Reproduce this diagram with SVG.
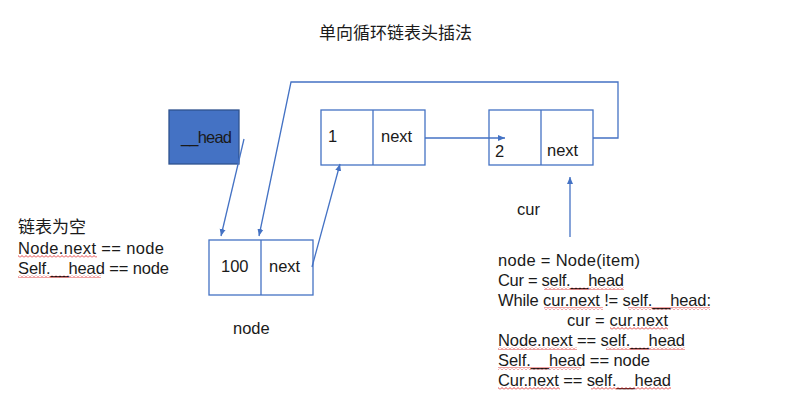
<svg xmlns="http://www.w3.org/2000/svg" width="794" height="410" viewBox="0 0 794 410">
<style>
.t{font-family:"Liberation Sans","Noto Sans CJK SC",sans-serif;font-size:16.5px;fill:#1a1a1a}
.c{font-family:"Noto Sans CJK SC","Liberation Sans",sans-serif;font-size:17px;fill:#1a1a1a}
.box{fill:#fff;stroke:#4472C4;stroke-width:1.3}
.ln{fill:none;stroke:#4472C4;stroke-width:1.3}
.sq{fill:url(#sq)}
</style>
<defs>
<marker id="ah" markerWidth="8" markerHeight="8" refX="7" refY="4" orient="auto" markerUnits="userSpaceOnUse">
<path d="M0,1 L7,4 L0,7 Z" fill="#4472C4"/>
</marker>
<pattern id="sq" width="4" height="3" patternUnits="userSpaceOnUse">
<path d="M0,2.5 L2,0.5 L4,2.5" fill="none" stroke="#e03030" stroke-width="0.9"/>
</pattern>
</defs>
<rect width="794" height="410" fill="#fff"/>
<text class="c" x="319" y="39">单向循环链表头插法</text>

<g id="head">
<rect x="169" y="110" width="70" height="54" fill="#4472C4" stroke="#2F528F" stroke-width="1.3"/>
<text class="t" x="181" y="143" textLength="51" lengthAdjust="spacing">__head</text>
</g>

<g id="node1">
<rect class="box" x="321" y="110" width="104" height="55"/>
<line class="ln" x1="373" y1="110" x2="373" y2="165"/>
<text class="t" x="328" y="142">1</text>
<text class="t" x="381" y="142">next</text>
</g>

<g id="node2">
<rect class="box" x="489" y="110" width="104" height="55"/>
<line class="ln" x1="541" y1="110" x2="541" y2="165"/>
<text class="t" x="495" y="157">2</text>
<text class="t" x="547" y="156">next</text>
</g>

<g id="node100">
<rect class="box" x="209" y="240" width="104" height="55"/>
<line class="ln" x1="261" y1="240" x2="261" y2="295"/>
<text class="t" x="221" y="272">100</text>
<text class="t" x="269" y="272">next</text>
</g>

<g id="connectors">
<line class="ln" x1="244" y1="139" x2="221" y2="236" marker-end="url(#ah)"/>
<path class="ln" d="M593,138 L618,138 L618,82 L291,82 L259,236" marker-end="url(#ah)"/>
<line class="ln" x1="312" y1="267" x2="340" y2="164" marker-end="url(#ah)"/>
<line class="ln" x1="425" y1="138" x2="505" y2="138" marker-end="url(#ah)"/>
<line class="ln" x1="570" y1="237" x2="570" y2="177" marker-end="url(#ah)"/>
</g>

<g id="labels">
<text class="t" x="517" y="215">cur</text>
<text class="t" x="233" y="334">node</text>
<text class="c" x="18" y="233">链表为空</text>
<text class="t" x="18" y="254" textLength="146" lengthAdjust="spacing">Node.next == node</text>
<text class="t" x="18" y="274" textLength="151" lengthAdjust="spacing">Self.__head == node</text>
<text class="t" x="498" y="266" textLength="142" lengthAdjust="spacing">node = Node(item)</text>
<text class="t" x="498" y="286" textLength="126" lengthAdjust="spacing">Cur = self.__head</text>
<text class="t" x="498" y="306" textLength="213" lengthAdjust="spacing">While cur.next != self.__head:</text>
<text class="t" x="567" y="326" textLength="101" lengthAdjust="spacing">cur = cur.next</text>
<text class="t" x="498" y="346" textLength="187" lengthAdjust="spacing">Node.next == self.__head</text>
<text class="t" x="498" y="366" textLength="152" lengthAdjust="spacing">Self.__head == node</text>
<text class="t" x="498" y="386" textLength="173" lengthAdjust="spacing">Cur.next == self.__head</text>
</g>

<g id="spellcheck">
<rect class="sq" x="18" y="255" width="79" height="3"/>
<rect class="sq" x="18" y="275" width="83" height="3"/>
<rect class="sq" x="544" y="287" width="80" height="3"/>
<rect class="sq" x="544" y="307" width="59" height="3"/>
<rect class="sq" x="628" y="307" width="82" height="3"/>
<rect class="sq" x="610" y="327" width="58" height="3"/>
<rect class="sq" x="498" y="347" width="79" height="3"/>
<rect class="sq" x="606" y="347" width="79" height="3"/>
<rect class="sq" x="498" y="367" width="83" height="3"/>
<rect class="sq" x="498" y="387" width="62" height="3"/>
<rect class="sq" x="591" y="387" width="80" height="3"/>
</g>
</svg>
